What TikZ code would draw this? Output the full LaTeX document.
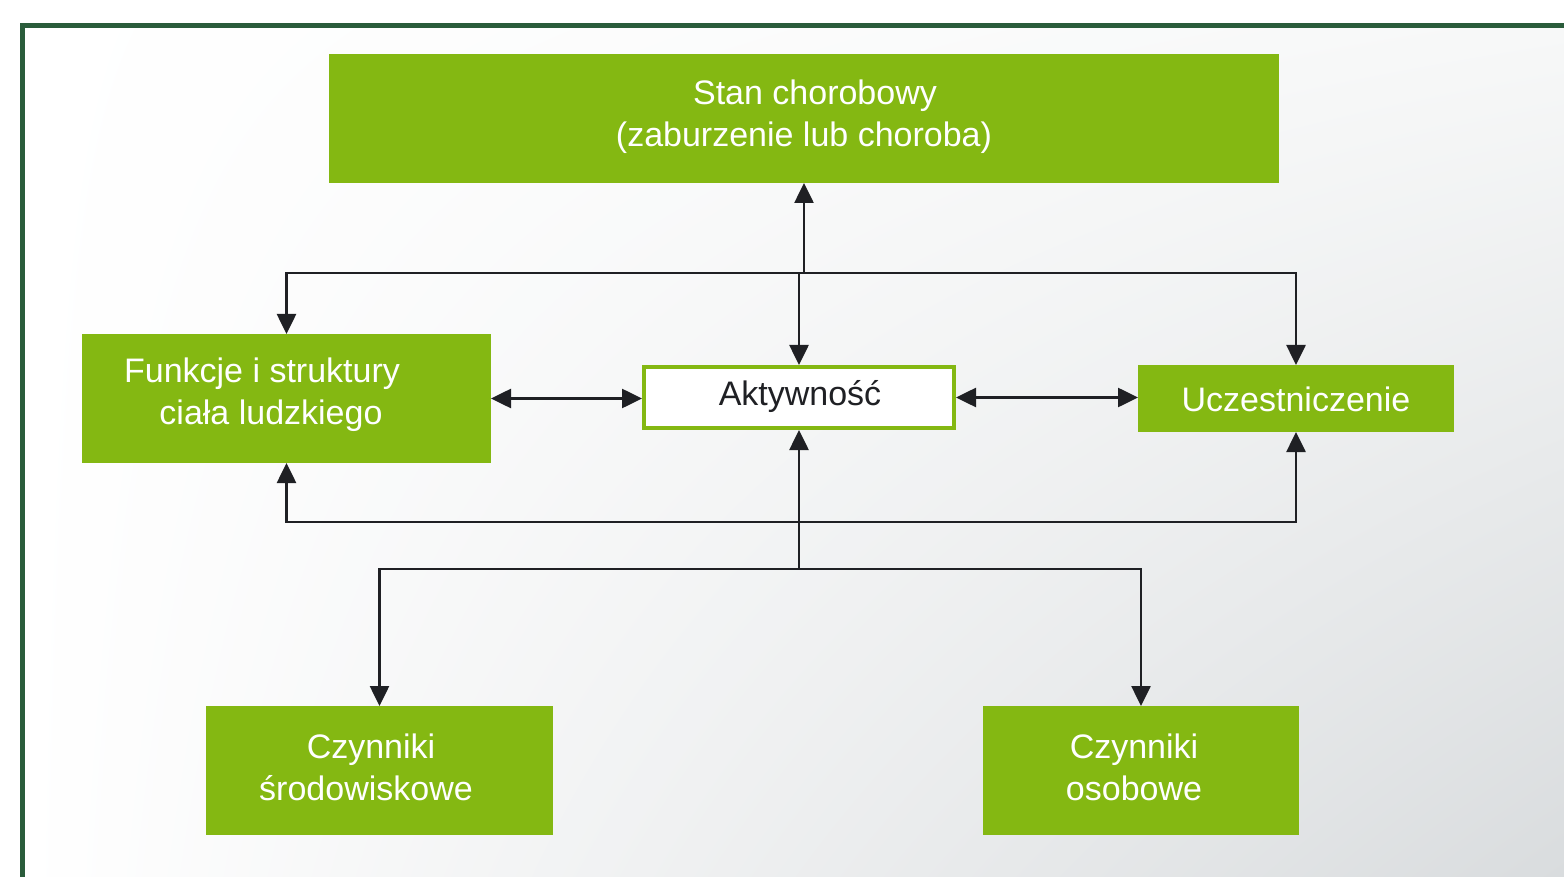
\documentclass[tikz,border=0pt]{standalone}
\usepackage{fontspec}
\setmainfont{Liberation Sans}
\usetikzlibrary{arrows.meta,shadings}
\definecolor{gboxc}{HTML}{84B812}
\definecolor{framec}{HTML}{2A5C3B}
\definecolor{linec}{HTML}{1F2024}
\definecolor{shtr}{HTML}{F7F8F8}
\definecolor{shbr}{HTML}{D9DCDE}
\tikzset{
  gbox/.style={fill=gboxc, draw=none, outer sep=0pt, inner sep=0pt},
  wbox/.style={fill=white, draw=gboxc, line width=2pt, inner sep=0pt},
  btxt/.style={text=white, align=center, inner sep=0pt, font=\fontsize{17pt}{21pt}\selectfont},
  dtxt/.style={text=linec, align=center, inner sep=0pt, font=\fontsize{17pt}{21pt}\selectfont},
  conn/.style={draw=linec, line width=1.3pt},
  arr/.style={conn, -{Triangle[length=10pt,width=9.5pt]}},
  arrtwo/.style={conn, {Triangle[length=10pt,width=9.5pt]}-{Triangle[length=10pt,width=9.5pt]}}
}
\begin{document}
\begin{tikzpicture}[x=0.5pt,y=-0.5pt]
\useasboundingbox (0,0) rectangle (1564,877);
\clip (0,0) rectangle (1564,877);
\shade[upper left=white, upper right=shtr, lower left=white, lower right=shbr] (25,28) rectangle (1564,877);
\draw[framec, line width=2.75pt] (22.5,900) -- (22.5,25.5) -- (1600,25.5);

% boxes
\node[gbox, minimum width=475pt, minimum height=64.5pt] (top) at (804,118.5) {};
\node[gbox, minimum width=204.5pt, minimum height=64.5pt] (fun) at (286.5,398.5) {};
\node[wbox, minimum width=155pt, minimum height=30.5pt] (akt) at (799,397.5) {};
\node[gbox, minimum width=158pt, minimum height=33.5pt] (ucz) at (1296,398.5) {};
\node[gbox, minimum width=173.5pt, minimum height=64.5pt] (srod) at (379.5,770.5) {};
\node[gbox, minimum width=158pt, minimum height=64.5pt] (osob) at (1141,770.5) {};

% texts
\node[btxt] (toptxt) at (804,117) {\hspace*{11pt}Stan chorobowy\\(zaburzenie lub choroba)};
\node[btxt] (funtxt) at (262,395) {Funkcje i struktury\\\hspace*{9pt}ciała ludzkiego};
\node[dtxt] (akttxt) at (800,397) {Aktywność};
\node[btxt] (ucztxt) at (1296,399) {Uczestniczenie};
\node[btxt] (srodtxt) at (366,767) {\hspace*{5pt}Czynniki\\środowiskowe};
\node[btxt] (osobtxt) at (1134,767) {Czynniki\\osobowe};

% junctions
\coordinate (j1) at (804,273);
\coordinate (j2) at (798,522);
\coordinate (j3) at (799,569);

% connectors
\draw[arr] (j1) -- (top.south);
\draw[arr] (j1) -| (fun.north);
\draw[arr] (j1) -| (ucz.north);
\draw[arr] (akt.north |- j1) -- (akt.north);
\draw[arrtwo] (fun.east) -- (fun.east -| akt.west);
\draw[arrtwo] (akt.east) -- (akt.east -| ucz.west);
\draw[arr] (j2) -| (fun.south);
\draw[arr] (j2) -| (ucz.south);
\draw[arr] (j3) -- (akt.south);
\draw[arr] (j3) -| (srod.north);
\draw[arr] (j3) -| (osob.north);
\end{tikzpicture}
\end{document}
